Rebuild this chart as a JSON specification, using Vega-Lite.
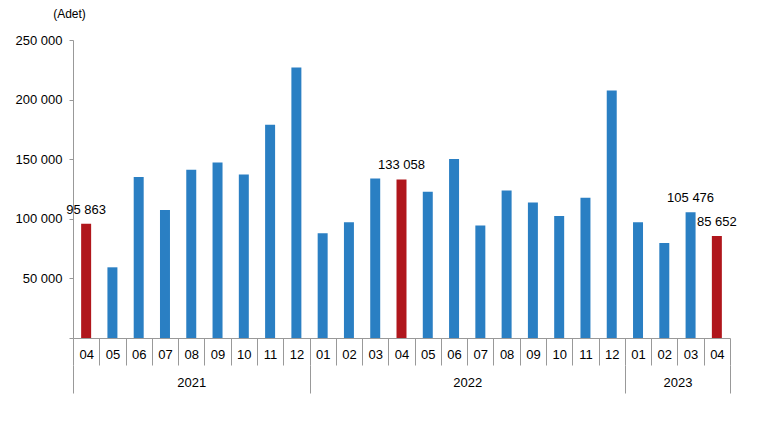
{
  "$schema": "https://vega.github.io/schema/vega-lite/v6.json",
  "width": 657,
  "height": 298,
  "autosize": {"type": "none"},
  "padding": {"left": 73, "top": 40, "right": 30, "bottom": 92},
  "background": "white",
  "config": {
    "view": {"stroke": null},
    "font": "Liberation Sans, Arial",
    "locale": {"number": {"decimal": ",", "thousands": " ", "grouping": [3], "currency": ["", ""]}},
    "axis": {"labelFont": "Liberation Sans, Arial", "labelColor": "#000", "titleColor": "#000", "domainColor": "#999", "tickColor": "#999", "grid": false}
  },
  "data": {
    "values": [
      {"key": "2021-04", "value": 95863, "hl": true, "label": "95 863"},
      {"key": "2021-05", "value": 59300, "hl": false, "label": ""},
      {"key": "2021-06", "value": 135000, "hl": false, "label": ""},
      {"key": "2021-07", "value": 107300, "hl": false, "label": ""},
      {"key": "2021-08", "value": 141200, "hl": false, "label": ""},
      {"key": "2021-09", "value": 147300, "hl": false, "label": ""},
      {"key": "2021-10", "value": 137200, "hl": false, "label": ""},
      {"key": "2021-11", "value": 179000, "hl": false, "label": ""},
      {"key": "2021-12", "value": 227000, "hl": false, "label": ""},
      {"key": "2022-01", "value": 87900, "hl": false, "label": ""},
      {"key": "2022-02", "value": 97100, "hl": false, "label": ""},
      {"key": "2022-03", "value": 133800, "hl": false, "label": ""},
      {"key": "2022-04", "value": 133058, "hl": true, "label": "133 058"},
      {"key": "2022-05", "value": 122600, "hl": false, "label": ""},
      {"key": "2022-06", "value": 150200, "hl": false, "label": ""},
      {"key": "2022-07", "value": 94300, "hl": false, "label": ""},
      {"key": "2022-08", "value": 123700, "hl": false, "label": ""},
      {"key": "2022-09", "value": 113600, "hl": false, "label": ""},
      {"key": "2022-10", "value": 102400, "hl": false, "label": ""},
      {"key": "2022-11", "value": 117600, "hl": false, "label": ""},
      {"key": "2022-12", "value": 207700, "hl": false, "label": ""},
      {"key": "2023-01", "value": 97100, "hl": false, "label": ""},
      {"key": "2023-02", "value": 79700, "hl": false, "label": ""},
      {"key": "2023-03", "value": 105476, "hl": false, "label": "105 476"},
      {"key": "2023-04", "value": 85652, "hl": true, "label": "85 652"}
    ]
  },
  "layer": [
    {
      "mark": {"type": "bar", "width": {"band": 0.38}},
      "encoding": {
        "x": {
          "field": "key", "type": "ordinal", "sort": null,
          "scale": {"paddingInner": 0, "paddingOuter": 0},
          "axis": {
            "title": null, "orient": "bottom", "labelAngle": 0, "labelFontSize": 13,
            "labelExpr": "datum.value ? substring(datum.value, 5, 7) : ''",
            "tickBand": "extent", "tickSize": 27, "labelPadding": -17,
            "ticks": true, "tickColor": "#999", "tickOpacity": 1,
            "domain": true
          }
        },
        "y": {
          "field": "value", "type": "quantitative",
          "scale": {"domain": [0, 250000], "nice": false},
          "axis": {
            "values": [0, 50000, 100000, 150000, 200000, 250000],
            "format": ",d",
            "labelExpr": "datum.value === 0 ? '' : datum.label",
            "labelFontSize": 13, "tickSize": 4, "labelPadding": 7,
            "title": "(Adet)", "titleAngle": 0, "titleX": -4, "titleY": -27,
            "titleAlign": "center", "titleBaseline": "middle",
            "titleFont": "Liberation Sans, Arial",
            "titleFontSize": 12, "titleFontWeight": "normal"
          }
        },
        "color": {
          "field": "hl", "type": "nominal",
          "scale": {"domain": [true, false], "range": ["#b0161c", "#2a7fc3"]},
          "legend": null
        }
      }
    },
    {
      "transform": [{"filter": "datum.label != ''"}],
      "mark": {"type": "text", "baseline": "bottom", "dy": -7, "fontSize": 13, "font": "Liberation Sans, Arial", "color": "#000"},
      "encoding": {
        "x": {
          "field": "key", "type": "ordinal", "sort": null,
          "axis": {
            "title": null, "orient": "bottom", "offset": 27, "domain": false,
            "labelAngle": 0, "labelFontSize": 13,
            "labelExpr": "datum.value == '2021-08' || datum.value == '2022-06' || datum.value == '2023-02' ? substring(datum.value, 0, 4) : ''",
            "labelOffset": {"condition": {"test": "datum.value == '2021-08'", "value": 0}, "value": 13.14},
            "tickBand": "extent", "tickSize": 28, "labelPadding": -17,
            "tickOpacity": {"condition": {"test": "!datum.value || datum.value == '2021-12' || datum.value == '2022-12' || datum.value == '2023-04'", "value": 1}, "value": 0},
            "labelOverlap": false
          }
        },
        "y": {"field": "value", "type": "quantitative"},
        "text": {"field": "label"}
      }
    }
  ],
  "resolve": {"axis": {"x": "independent"}}
}
